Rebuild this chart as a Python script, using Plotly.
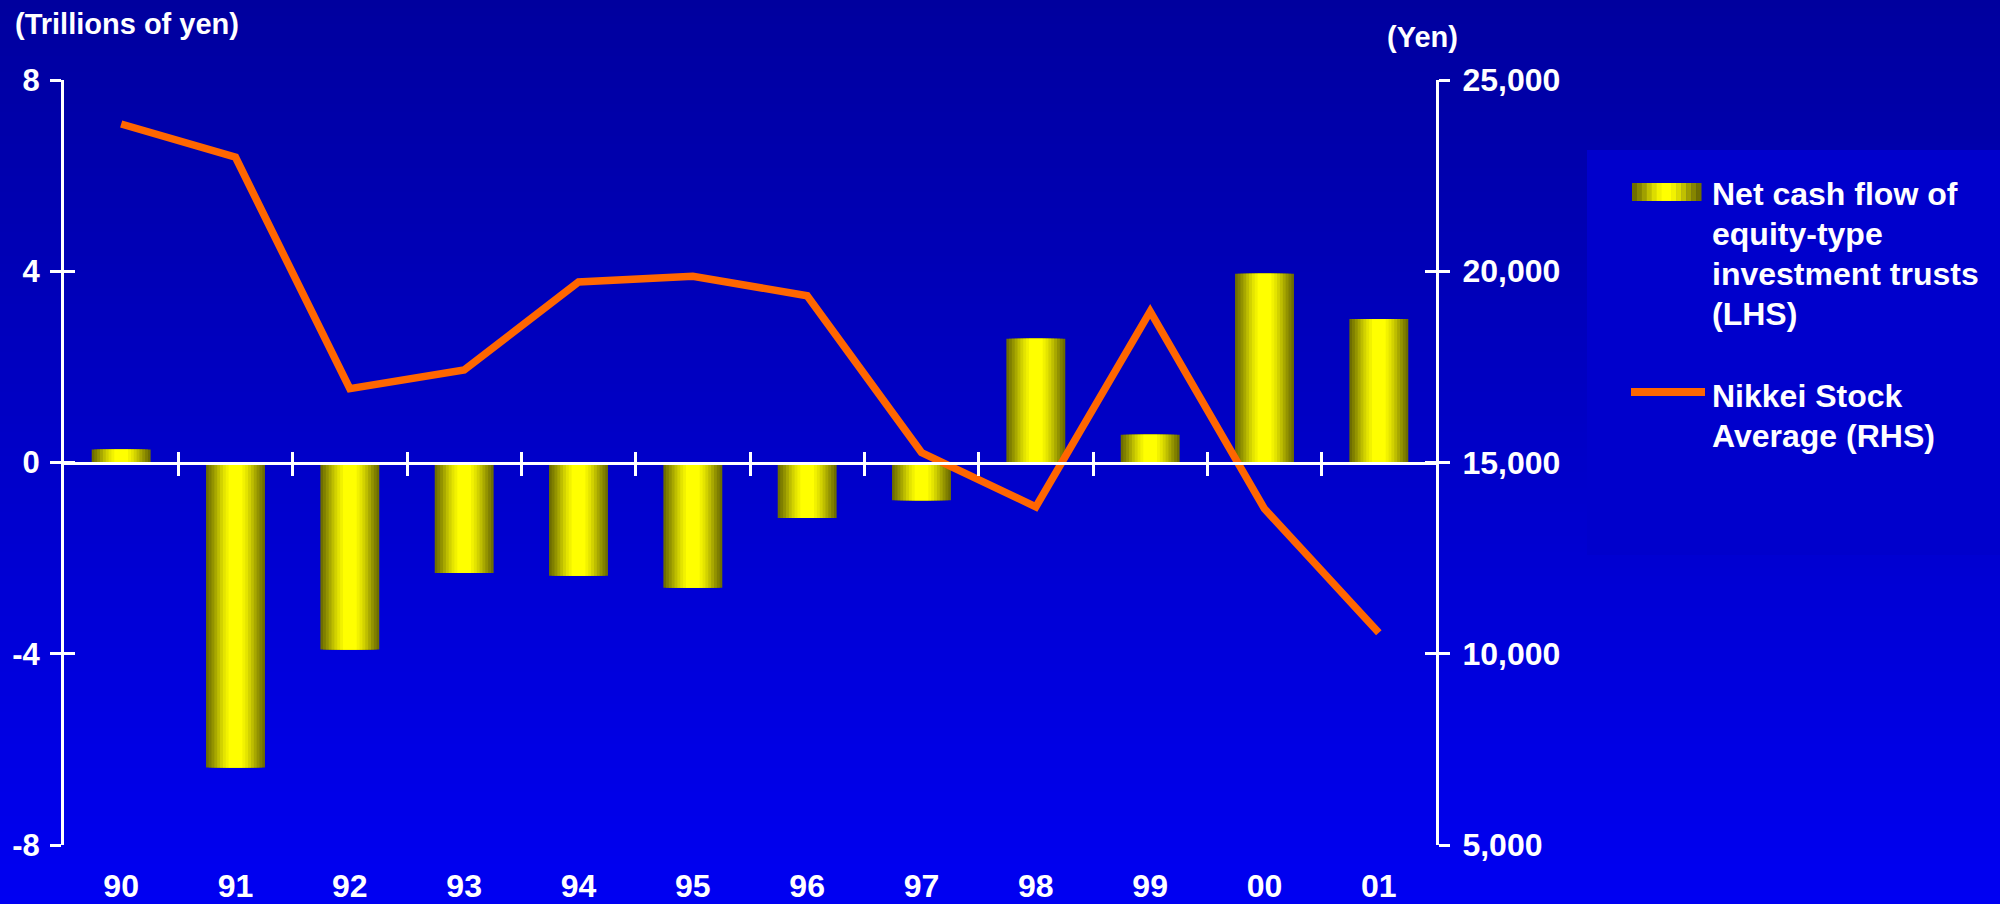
import plotly.graph_objects as go

# ---------------- data ----------------
years = ["90", "91", "92", "93", "94", "95", "96", "97", "98", "99", "00", "01"]
net_cash_flow = [0.27, -6.38, -3.91, -2.31, -2.37, -2.62, -1.16, -0.79, 2.59, 0.58, 3.95, 3.00]
nikkei = [23850, 22980, 16930, 17420, 19720, 19870, 19360, 15260, 13840, 18950, 13790, 10550]
left_ticks = [-8, -4, 0, 4, 8]
left_tick_text = ["-8", "-4", "0", "4", "8"]
right_ticks = [5000, 10000, 15000, 20000, 25000]
right_tick_text = ["5,000", "10,000", "15,000", "20,000", "25,000"]
legend_bar_lines = ["Net cash flow of", "equity-type", "investment trusts", "(LHS)"]
legend_line_lines = ["Nikkei Stock", "Average (RHS)"]
left_title = "(Trillions of yen)"
right_title = "(Yen)"

# ---------------- geometry helpers ----------------
W, H = 2000, 904
L, R, T, B = 64, 1436, 80, 845


def px_x(x):
    return (x - L) / (R - L)


def px_y(y):
    return (B - y) / (B - T)


xs = list(range(len(years)))
SANS = "Liberation Sans, Arial, Helvetica, sans-serif"
WHITE = "#FFFFFF"
ORANGE = "#FF6600"

fig = go.Figure()

# gradient bars: overlaid bars of decreasing width and increasing brightness
layers = [
    (0.515, "#6E6E00"), (0.47, "#7F7F00"), (0.42, "#939300"), (0.37, "#A8A800"),
    (0.32, "#BEBE00"), (0.27, "#D2D200"), (0.22, "#E4E400"), (0.17, "#F2F200"),
    (0.12, "#FFFF00"),
]
for w, c in layers:
    fig.add_trace(go.Bar(x=xs, y=net_cash_flow, width=w, marker=dict(color=c, line=dict(width=0)),
                         showlegend=False, hoverinfo="skip", xaxis="x", yaxis="y"))

# invisible helper traces so that the overlay axes (zero line, crossing ticks, labels) get drawn
for xa, ya, yv in [("x2", "y", net_cash_flow), ("x3", "y", net_cash_flow), ("x4", "y", net_cash_flow),
                   ("x", "y3", net_cash_flow), ("x", "y4", nikkei)]:
    fig.add_trace(go.Scatter(x=xs, y=yv, mode="markers", marker=dict(opacity=0, size=1),
                             showlegend=False, hoverinfo="skip", xaxis=xa, yaxis=ya))

fig.add_trace(go.Scatter(x=xs, y=nikkei, mode="lines", line=dict(color=ORANGE, width=7.5),
                         showlegend=False, xaxis="x", yaxis="y2", name="Nikkei Stock Average (RHS)"))

# ---------------- background gradient ----------------
shapes = []
n_bands = 113
top_c, bot_c = 158, 242
for i in range(n_bands):
    y0 = i * H / n_bands
    y1 = (i + 1) * H / n_bands + 0.6
    v = round(top_c + (bot_c - top_c) * (i + 0.5) / n_bands)
    shapes.append(dict(type="rect", xref="paper", yref="paper",
                       x0=px_x(-3), x1=px_x(W + 3), y0=px_y(y1 + (2 if i == n_bands - 1 else 0)),
                       y1=px_y(y0 - (2 if i == 0 else 0)),
                       fillcolor=f"rgb(0,0,{v})", line=dict(width=0), layer="below"))

# legend box
shapes.append(dict(type="rect", xref="paper", yref="paper",
                   x0=px_x(1587), x1=px_x(W + 5), y0=px_y(555), y1=px_y(150),
                   fillcolor="#0000CC", line=dict(width=0), layer="below"))

# legend bar glyph (gradient strips)
gx0, gx1, gy0, gy1 = 1632, 1701, 183, 201
strip_cols = ["#6E6E00", "#858500", "#A0A000", "#C0C000", "#DCDC00", "#F2F200", "#FFFF00", "#FFFF00",
              "#F2F200", "#DCDC00", "#C0C000", "#A0A000", "#858500", "#6E6E00"]
sw = (gx1 - gx0) / len(strip_cols)
for k, c in enumerate(strip_cols):
    shapes.append(dict(type="rect", xref="paper", yref="paper",
                       x0=px_x(gx0 + k * sw), x1=px_x(gx0 + (k + 1) * sw + 0.5),
                       y0=px_y(gy1), y1=px_y(gy0), fillcolor=c, line=dict(width=0), layer="above"))
# legend line glyph
shapes.append(dict(type="line", xref="paper", yref="paper",
                   x0=px_x(1631), x1=px_x(1705), y0=px_y(392), y1=px_y(392),
                   line=dict(color=ORANGE, width=8), layer="above"))

annotations = [
    dict(text=left_title, xref="paper", yref="paper", x=px_x(13), y=px_y(24),
         xanchor="left", yanchor="middle", showarrow=False,
         font=dict(family=SANS, size=29, color=WHITE, weight="bold")),
    dict(text=right_title, xref="paper", yref="paper", x=px_x(1422), y=px_y(37),
         xanchor="center", yanchor="middle", showarrow=False,
         font=dict(family=SANS, size=29, color=WHITE, weight="bold")),
]
legend_font = dict(family=SANS, size=32, color=WHITE, weight="bold")
for txt, base in zip(legend_bar_lines + legend_line_lines, [205, 245, 285, 325, 407, 447]):
    annotations.append(dict(text=txt, xref="paper", yref="paper", x=px_x(1710), y=px_y(base - 11),
                            xanchor="left", yanchor="middle", align="left", showarrow=False,
                            font=legend_font))

ltickfont = dict(family=SANS, size=31, color=WHITE, weight="bold")
rtickfont = dict(family=SANS, size=32, color=WHITE, weight="bold")
xtickfont = dict(family=SANS, size=32, color=WHITE, weight="bold")
xrange = [-0.5, len(years) - 0.5]
boundaries = [i + 0.5 for i in range(len(years) - 1)]

common_y = dict(showgrid=False, zeroline=False, showline=True, linecolor=WHITE, linewidth=3,
                tickcolor=WHITE, tickwidth=3, ticklen=11, automargin=False)
common_x = dict(showgrid=False, zeroline=False, automargin=False)

fig.update_layout(
    width=W, height=H,
    margin=dict(l=L, r=W - R, t=T, b=H - B, pad=0, autoexpand=False),
    paper_bgcolor="rgb(0,0,200)",
    plot_bgcolor="rgba(0,0,0,0)",
    barmode="overlay",
    showlegend=False,
    hovermode=False,
    shapes=shapes,
    annotations=annotations,
    xaxis=dict(range=xrange, showline=False, showticklabels=False, ticks="", **common_x),
    xaxis4=dict(range=xrange, overlaying="x", anchor="y", side="bottom", tickvals=xs, ticktext=years,
                ticks="", showline=False, tickfont=xtickfont, ticklabelstandoff=19, **common_x),
    xaxis2=dict(range=xrange, overlaying="x", anchor="free", position=0.5, side="bottom",
                showline=True, linecolor=WHITE, linewidth=3, ticks="outside", ticklen=11,
                tickwidth=3, tickcolor=WHITE, tickvals=boundaries, showticklabels=False, **common_x),
    xaxis3=dict(range=xrange, overlaying="x", anchor="free", position=0.5, side="bottom",
                showline=False, ticks="inside", ticklen=11, tickwidth=3, tickcolor=WHITE,
                tickvals=boundaries, showticklabels=False, **common_x),
    yaxis=dict(range=[-8, 8], tickvals=left_ticks, ticktext=left_tick_text, ticks="outside",
               side="left", tickfont=ltickfont, ticklabelstandoff=4, **common_y),
    yaxis3=dict(range=[-8, 8], tickvals=left_ticks, ticks="inside", side="left",
                overlaying="y", showticklabels=False, **common_y),
    yaxis2=dict(range=[5000, 25000], tickvals=right_ticks, ticktext=right_tick_text, ticks="outside",
                side="right", overlaying="y", tickfont=rtickfont, ticklabelstandoff=6, **common_y),
    yaxis4=dict(range=[5000, 25000], tickvals=right_ticks, ticks="inside", side="right",
                overlaying="y", showticklabels=False, **common_y),
)

fig.write_html(
    "out.html",
    config={"displayModeBar": False},
    post_script="document.body.style.margin='0';document.body.style.padding='0';"
                "document.documentElement.style.overflow='hidden';document.body.style.overflow='hidden';",
)
